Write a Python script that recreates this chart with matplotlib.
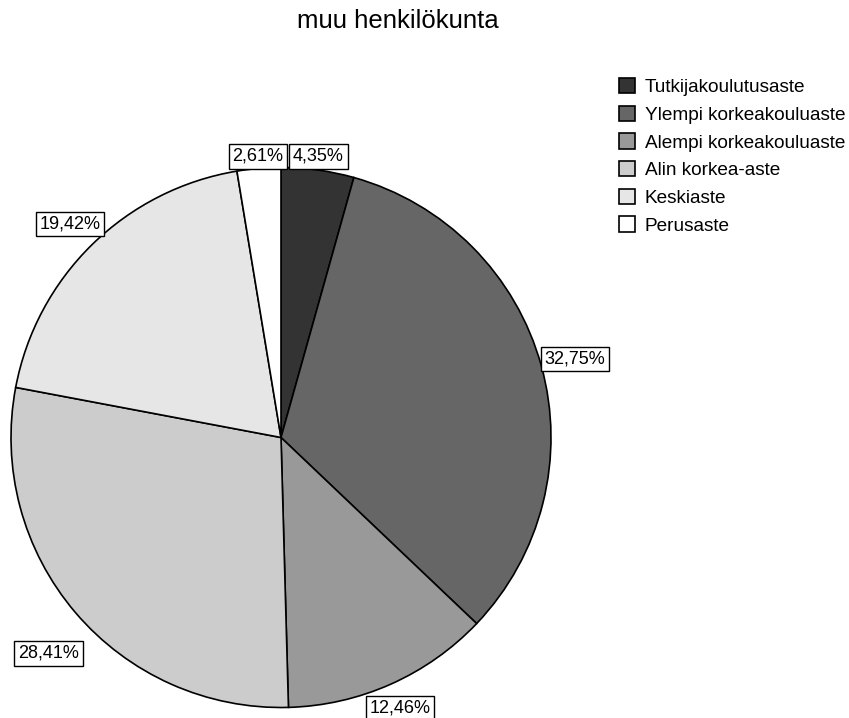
import matplotlib; matplotlib.use("Agg")
import matplotlib.pyplot as plt

plt.rcParams['font.family'] = ['Liberation Sans', 'DejaVu Sans']

# --- share of staff by education level (%) ---
title = "muu henkilökunta"
levels = ["Tutkijakoulutusaste", "Ylempi korkeakouluaste", "Alempi korkeakouluaste",
          "Alin korkea-aste", "Keskiaste", "Perusaste"]
shares = [4.35, 32.75, 12.46, 28.41, 19.42, 2.61]
labels = ["4,35%", "32,75%", "12,46%", "28,41%", "19,42%", "2,61%"]

greys = ["#333333", "#666666", "#999999", "#cccccc", "#e6e6e6", "#ffffff"]
# label box centres, in units of the pie radius
label_pos = [(0.139, 1.041), (1.089, 0.291), (0.441, -1.002),
             (-0.861, -0.80), (-0.781, 0.791), (-0.085, 1.041)]

W, H = 849, 718
fig = plt.figure(figsize=(W / 100, H / 100), dpi=100)
cx, cy, r = 281, 437.5, 270
ax = fig.add_axes([(cx - r) / W, (H - cy - r) / H, 2 * r / W, 2 * r / H])

wedges, _ = ax.pie(shares, colors=greys, startangle=90, counterclock=False,
                   radius=1.0, wedgeprops=dict(edgecolor='black', linewidth=1.2))
ax.set_xlim(-1, 1); ax.set_ylim(-1, 1)
ax.set_aspect('equal'); ax.axis('off')

for (x, y), txt in zip(label_pos, labels):
    ax.text(x, y, txt, ha='center', va='center', fontsize=13, clip_on=False,
            bbox=dict(boxstyle='square,pad=0.2', fc='white', ec='black', lw=1.0))

fig.text(398 / W, 1 - 21 / H, title, ha='center', va='center', fontsize=18.5)

fig.legend(wedges, levels, loc='upper left', bbox_to_anchor=(619 / W, 1 - 78 / H),
           frameon=False, fontsize=13.7, handlelength=0.85, handleheight=0.85,
           handletextpad=0.5, labelspacing=0.5, borderpad=0, borderaxespad=0)

fig.savefig("out.png", dpi=100)
